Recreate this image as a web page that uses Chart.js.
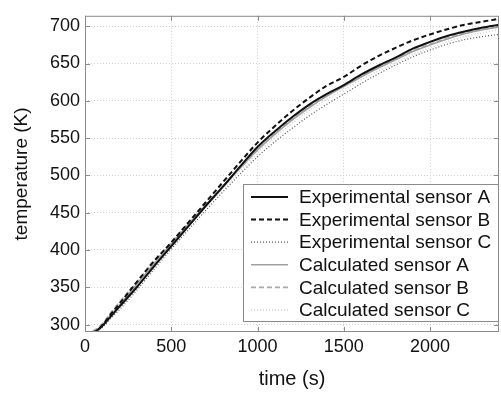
<!DOCTYPE html>
<html>
<head>
<meta charset="utf-8">
<script src="https://cdn.jsdelivr.net/npm/chart.js@4"></script>
<style>
  html, body { margin: 0; padding: 0; background: #fff; }
  #wrap { width: 501px; height: 395px; }
</style>
</head>
<body>
<div id="wrap"><canvas id="tempChart" width="501" height="395"></canvas></div>
<script>
const times = [0, 50, 100, 150, 200, 300, 400, 500, 600, 700, 800, 900, 1000, 1100, 1200,
    1300, 1400, 1500, 1600, 1700, 1800, 1900, 2000, 2100, 2200, 2300, 2400];
const expA = [290, 290, 298, 311, 324, 350, 378, 405, 432, 459, 485, 512, 538, 559, 578,
    595, 609, 621, 635, 647, 658, 670, 679, 687, 693, 698, 702];
const expB = [290, 290, 299, 314, 328, 357, 385, 410, 437, 464, 491, 518, 544, 566, 586,
    604, 620, 632, 647, 660, 671, 681, 689, 696, 702, 706, 710];
const expC = [290, 290, 296, 308, 320, 346, 374, 401, 427, 453, 478, 502, 525, 545, 563,
    580, 595, 609, 623, 636, 648, 659, 668, 676, 682, 686, 689];
const calcA = [290, 291, 299, 313, 326, 354, 381, 408, 434, 460, 485, 510, 534, 555, 574,
    591, 606, 619, 632, 644, 655, 666, 675, 683, 690, 695, 699];
const calcB = [290, 292, 301, 316, 330, 357, 384, 410, 436, 461, 486, 510, 534, 556, 575,
    592, 607, 620, 633, 645, 656, 667, 676, 684, 691, 696, 700];
const calcC = [290, 291, 298, 312, 325, 352, 379, 406, 432, 457, 482, 506, 530, 551, 570,
    587, 602, 615, 628, 640, 651, 662, 671, 679, 686, 691, 695];
const seriesLabels = ['Experimental sensor A', 'Experimental sensor B', 'Experimental sensor C',
    'Calculated sensor A', 'Calculated sensor B', 'Calculated sensor C'];
const xTicks = [0, 500, 1000, 1500, 2000];
const yTicks = [300, 350, 400, 450, 500, 550, 600, 650, 700];

const FONT = '"Liberation Sans", Arial, sans-serif';

const toPoints = (vals) => vals.map((v, i) => ({ x: times[i], y: v }));

const styles = [
    { color: '#111', width: 2, dash: [] },
    { color: '#111', width: 2, dash: [5, 3] },
    { color: '#555', width: 1.2, dash: [1, 2] },
    { color: '#a0a0a0', width: 1.6, dash: [] },
    { color: '#a8a8a8', width: 1.6, dash: [5, 3] },
    { color: '#cfcfcf', width: 1.4, dash: [1, 2] },
];

const allSeries = [expA, expB, expC, calcA, calcB, calcC];

const datasets = allSeries.map((vals, i) => ({
    label: seriesLabels[i],
    data: toPoints(vals),
    borderColor: styles[i].color,
    borderWidth: styles[i].width,
    borderDash: styles[i].dash,
    pointRadius: 0,
    fill: false,
    cubicInterpolationMode: 'monotone',
    // calculated lines underneath, experimental on top
    order: i < 3 ? 1 : 2,
}));

// plot frame + legend box inside the plot, bottom right
const framePlugin = {
    id: 'frame',
    afterDatasetsDraw(chart) {
        const { ctx, chartArea: a } = chart;
        ctx.save();
        ctx.strokeStyle = '#8a8a8a';
        ctx.lineWidth = 1;
        ctx.setLineDash([]);
        ctx.strokeRect(a.left + 0.5, a.top + 0.5, a.right - a.left - 1, a.bottom - a.top - 1);

        // small inward tick marks like the original
        ctx.beginPath();
        xTicks.forEach((v) => {
            const x = Math.round(chart.scales.x.getPixelForValue(v)) + 0.5;
            ctx.moveTo(x, a.bottom); ctx.lineTo(x, a.bottom - 5);
            ctx.moveTo(x, a.top); ctx.lineTo(x, a.top + 5);
        });
        yTicks.forEach((v) => {
            const y = Math.round(chart.scales.y.getPixelForValue(v)) + 0.5;
            ctx.moveTo(a.left, y); ctx.lineTo(a.left + 5, y);
            ctx.moveTo(a.right, y); ctx.lineTo(a.right - 5, y);
        });
        ctx.stroke();

        const boxW = 256, boxH = 138;
        const bx = a.right - boxW, by = a.bottom - 10 - boxH;
        ctx.fillStyle = '#fff';
        ctx.fillRect(bx, by, boxW, boxH);
        ctx.strokeStyle = '#8a8a8a';
        ctx.strokeRect(bx + 0.5, by + 0.5, boxW - 1, boxH - 1);

        ctx.font = '19px ' + FONT;
        ctx.textBaseline = 'middle';
        ctx.fillStyle = '#111';
        chart.data.datasets.forEach((ds, i) => {
            const y = by + 13 + i * 22.6;
            ctx.beginPath();
            ctx.strokeStyle = ds.borderColor;
            ctx.lineWidth = ds.borderWidth;
            ctx.setLineDash(ds.borderDash);
            ctx.moveTo(bx + 8, y);
            ctx.lineTo(bx + 45, y);
            ctx.stroke();
            ctx.setLineDash([]);
            ctx.fillText(ds.label, bx + 56, y + 1);
        });
        ctx.restore();
    },
};

new Chart(document.getElementById('tempChart'), {
    type: 'line',
    data: { datasets },
    options: {
        responsive: false,
        animation: false,
        layout: { padding: { top: 5, right: 2, left: 0, bottom: 0 } },
        plugins: { legend: { display: false }, tooltip: { enabled: false } },
        scales: {
            x: {
                type: 'linear',
                min: 0,
                max: 2400,
                afterBuildTicks: (axis) => { axis.ticks = xTicks.map((v) => ({ value: v })); },
                afterFit: (axis) => { axis.height = 63; },
                grid: { color: '#cfcfcf', drawTicks: false },
                border: { display: false, dash: [1, 2] },
                ticks: {
                    color: '#111', font: { family: FONT, size: 18 }, padding: 4, maxRotation: 0,
                    callback: (v) => String(v),
                },
                title: { display: true, text: 'time (s)', color: '#111', font: { family: FONT, size: 20 }, padding: { top: 6 } },
            },
            y: {
                min: 290,
                max: 714,
                afterBuildTicks: (axis) => { axis.ticks = yTicks.map((v) => ({ value: v })); },
                afterFit: (axis) => { axis.width = 85; },
                grid: { color: '#cfcfcf', drawTicks: false },
                border: { display: false, dash: [1, 2] },
                ticks: { color: '#111', font: { family: FONT, size: 18 }, padding: 5, callback: (v) => String(v) },
                title: { display: true, text: 'temperature (K)', color: '#111', font: { family: FONT, size: 19 }, padding: { top: 10, bottom: 2 } },
            },
        },
    },
    plugins: [framePlugin],
});
</script>
</body>
</html>
